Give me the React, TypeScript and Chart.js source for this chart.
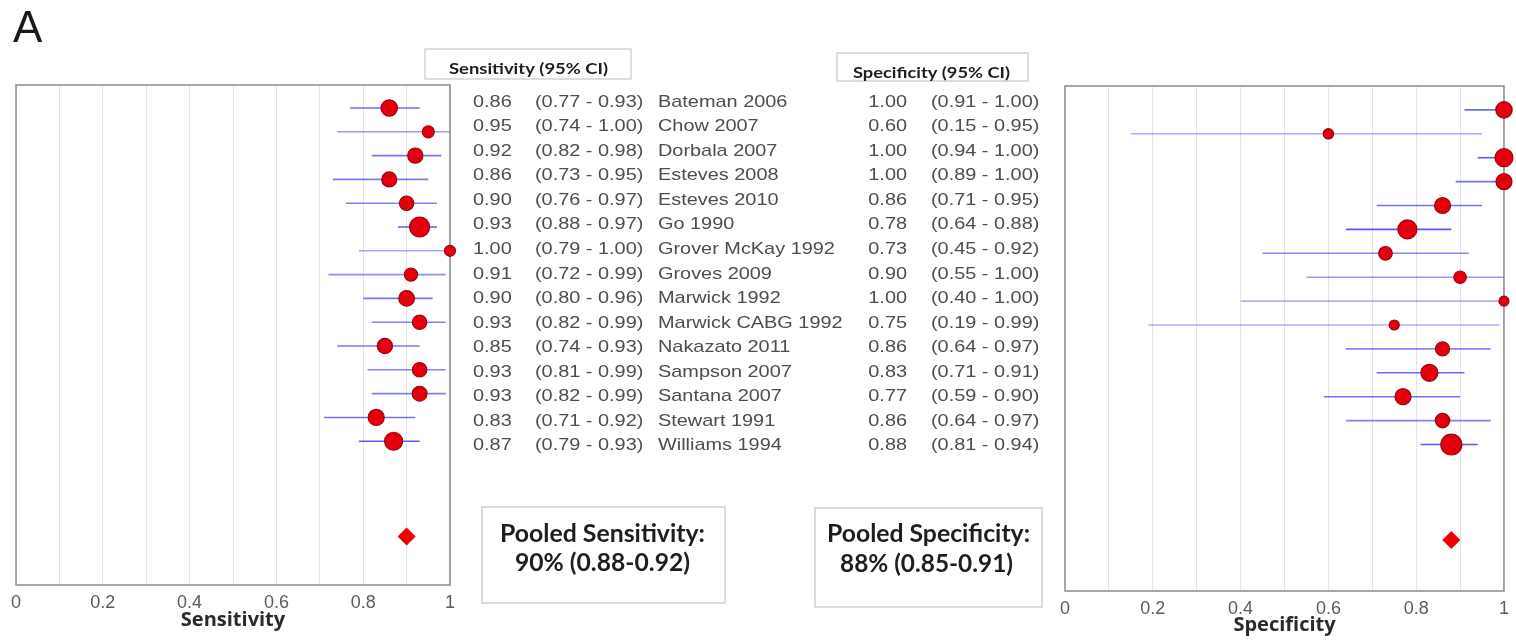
import React, { useEffect, useRef } from "react";
import { Chart, registerables } from "chart.js";

Chart.register(...registerables);

// ---------- data ----------
const studies = [
  "Bateman 2006", "Chow 2007", "Dorbala 2007", "Esteves 2008", "Esteves 2010",
  "Go 1990", "Grover McKay 1992", "Groves 2009", "Marwick 1992", "Marwick CABG 1992",
  "Nakazato 2011", "Sampson 2007", "Santana 2007", "Stewart 1991", "Williams 1994",
];
const sensEst = [0.86, 0.95, 0.92, 0.86, 0.90, 0.93, 1.00, 0.91, 0.90, 0.93, 0.85, 0.93, 0.93, 0.83, 0.87];
const sensLow = [0.77, 0.74, 0.82, 0.73, 0.76, 0.88, 0.79, 0.72, 0.80, 0.82, 0.74, 0.81, 0.82, 0.71, 0.79];
const sensHigh = [0.93, 1.00, 0.98, 0.95, 0.97, 0.97, 1.00, 0.99, 0.96, 0.99, 0.93, 0.99, 0.99, 0.92, 0.93];
const sensWeight = [0.82, 0.6, 0.76, 0.75, 0.72, 1.0, 0.55, 0.66, 0.78, 0.72, 0.76, 0.72, 0.74, 0.8, 0.9];

const specEst = [1.00, 0.60, 1.00, 1.00, 0.86, 0.78, 0.73, 0.90, 1.00, 0.75, 0.86, 0.83, 0.77, 0.86, 0.88];
const specLow = [0.91, 0.15, 0.94, 0.89, 0.71, 0.64, 0.45, 0.55, 0.40, 0.19, 0.64, 0.71, 0.59, 0.64, 0.81];
const specHigh = [1.00, 0.95, 1.00, 1.00, 0.95, 0.88, 0.92, 1.00, 1.00, 0.99, 0.97, 0.91, 0.90, 0.97, 0.94];
const specWeight = [0.82, 0.52, 0.9, 0.8, 0.8, 0.95, 0.68, 0.62, 0.5, 0.5, 0.7, 0.85, 0.8, 0.72, 1.05];

const pooledSens = [0.90, 0.88, 0.92];
const pooledSpec = [0.88, 0.85, 0.91];
const pooledRow = 18;

const tickLabels = ["0", "0.2", "0.4", "0.6", "0.8", "1"];
const sensTitle = "Sensitivity";
const specTitle = "Specificity";
const panelLetter = "A";

// ---------- helpers ----------
const radiusOf = (w: number) => w * 10;
const ciColor = (w: number) => {
  const a = Math.max(0.45, Math.min(0.95, 0.45 + (w - 0.5) * 1.2));
  return `rgba(80, 80, 240, ${a.toFixed(2)})`;
};

function stretchText(ctx: CanvasRenderingContext2D, text: string, x: number, y: number, sx: number, align: CanvasTextAlign) {
  ctx.save();
  ctx.translate(x, y);
  ctx.scale(sx, 1);
  ctx.textAlign = align;
  ctx.fillText(text, 0, 0);
  ctx.restore();
}

function fitText(ctx: CanvasRenderingContext2D, text: string, cx: number, cy: number, width: number) {
  const w = ctx.measureText(text).width;
  ctx.save();
  ctx.translate(cx, cy);
  ctx.scale(width / w, 1);
  ctx.textAlign = "center";
  ctx.fillText(text, 0, 0);
  ctx.restore();
}

const framePlugin = {
  id: "frame",
  beforeDatasetsDraw(chart: any) {
    const { ctx, chartArea: a } = chart;
    ctx.save();
    ctx.strokeStyle = "#8c8c8c";
    ctx.lineWidth = 1.5;
    ctx.strokeRect(a.left, a.top, a.right - a.left, a.bottom - a.top);
    ctx.restore();
  },
};

const textPlugin = {
  id: "middleText",
  afterDraw(chart: any) {
    const ctx: CanvasRenderingContext2D = chart.ctx;
    ctx.save();
    // panel letter
    ctx.fillStyle = "#1a1a1a";
    ctx.font = '44px "Liberation Sans", Arial, sans-serif';
    ctx.textBaseline = "alphabetic";
    ctx.textAlign = "left";
    ctx.fillText(panelLetter, 13, 42);

    // header boxes
    ctx.strokeStyle = "#d2d2d2";
    ctx.lineWidth = 1.5;
    ctx.strokeRect(425, 49, 206, 30);
    ctx.strokeRect(837, 53, 191, 28);
    ctx.textBaseline = "middle";
    ctx.fillStyle = "#1e1e1e";
    ctx.font = 'bold 15px Lato, "Open Sans", sans-serif';
    fitText(ctx, "Sensitivity (95% CI)", 528.5, 69, 159);
    fitText(ctx, "Specificity (95% CI)", 931.5, 73, 157);

    // study rows
    ctx.fillStyle = "#4d4d4d";
    ctx.font = '17px "Liberation Sans", Arial, sans-serif';
    const sx = 1.17;
    studies.forEach((name, i) => {
      const y = 102 + i * 24.55;
      stretchText(ctx, sensEst[i].toFixed(2), 473, y, sx, "left");
      stretchText(ctx, `(${sensLow[i].toFixed(2)} - ${sensHigh[i].toFixed(2)})`, 535, y, sx, "left");
      stretchText(ctx, name, 658, y, sx, "left");
      stretchText(ctx, specEst[i].toFixed(2), 907, y, sx, "right");
      stretchText(ctx, `(${specLow[i].toFixed(2)} - ${specHigh[i].toFixed(2)})`, 931, y, sx, "left");
    });

    // pooled boxes
    ctx.strokeStyle = "#d0d0d0";
    ctx.lineWidth = 1.5;
    ctx.strokeRect(482, 507, 243, 96);
    ctx.strokeRect(815, 508, 227, 99);
    ctx.fillStyle = "#1e1e1e";
    ctx.font = 'bold 24px Lato, "Open Sans", sans-serif';
    const pct = (v: number) => `${Math.round(v * 100)}%`;
    fitText(ctx, "Pooled Sensitivity:", 602.5, 534, 205);
    fitText(ctx, `${pct(pooledSens[0])} (${pooledSens[1].toFixed(2)}-${pooledSens[2].toFixed(2)})`, 602.5, 563, 175);
    fitText(ctx, "Pooled Specificity:", 928.5, 534, 203);
    fitText(ctx, `${pct(pooledSpec[0])} (${pooledSpec[1].toFixed(2)}-${pooledSpec[2].toFixed(2)})`, 926.5, 564, 173);
    ctx.restore();
  },
};

function buildConfig(
  est: number[], low: number[], high: number[], weight: number[], pooled: number[],
  title: string, yMin: number, yMax: number,
  padding: { left: number; right: number; top: number; bottom: number },
  titlePadBottom: number, extraPlugins: any[]
): any {
  const datasets: any[] = [
    {
      label: "studies",
      data: est.map((v, i) => ({ x: v, y: i })),
      pointRadius: weight.map(radiusOf),
      pointHoverRadius: weight.map(radiusOf),
      backgroundColor: "#e3000c",
      borderColor: "#9c0012",
      borderWidth: 1.2,
      clip: false,
      order: 0,
    },
    {
      label: "pooled",
      data: [{ x: pooled[0], y: pooledRow }],
      pointStyle: "rectRot",
      pointRadius: 9,
      backgroundColor: "#f00000",
      borderColor: "#e00000",
      borderWidth: 0,
      clip: false,
      order: 0,
    },
    ...est.map((_, i) => ({
      label: `ci${i}`,
      data: [{ x: low[i], y: i }, { x: high[i], y: i }],
      showLine: true,
      pointRadius: 0,
      borderColor: ciColor(weight[i]),
      borderWidth: 1.6,
      clip: false,
      order: 1,
    })),
  ];
  return {
    type: "scatter",
    data: { datasets },
    options: {
      animation: false,
      responsive: false,
      devicePixelRatio: 1,
      layout: { padding },
      plugins: { legend: { display: false }, tooltip: { enabled: false } },
      events: [],
      scales: {
        x: {
          type: "linear",
          min: 0,
          max: 1,
          grid: { color: "#e6e6e6", lineWidth: 1, drawTicks: false },
          border: { display: false },
          ticks: {
            stepSize: 0.1,
            autoSkip: false,
            maxRotation: 0,
            padding: 7,
            color: "#5c5c5c",
            font: { family: '"Liberation Sans", Arial, sans-serif', size: 18 },
            callback: (v: any) => {
              const k = Math.round(Number(v) * 10);
              return k % 2 === 0 ? tickLabels[k / 2] : "";
            },
          },
          title: {
            display: true,
            text: title,
            color: "#2a2a2a",
            font: { family: '"Open Sans", Lato, sans-serif', weight: "bold", size: 20 },
            padding: { top: 0, bottom: titlePadBottom },
          },
          afterFit: (s: any) => {
            s.height = 50;
          },
        },
        y: { type: "linear", display: false, min: yMin, max: yMax, reverse: true },
      },
    },
    plugins: [framePlugin, ...extraPlugins],
  };
}

export default function App() {
  const leftRef = useRef<HTMLCanvasElement>(null);
  const rightRef = useRef<HTMLCanvasElement>(null);

  useEffect(() => {
    const left = new Chart(
      leftRef.current as HTMLCanvasElement,
      buildConfig(sensEst, sensLow, sensHigh, sensWeight, pooledSens, sensTitle, -0.966, 20.04,
        { left: 16, right: 1066, top: 85, bottom: 9 }, 2.4, [textPlugin])
    );
    const right = new Chart(
      rightRef.current as HTMLCanvasElement,
      buildConfig(specEst, specLow, specHigh, specWeight, pooledSpec, specTitle, -1.0, 20.13,
        { left: 25, right: 11, top: 86, bottom: 3 }, 3.4, [])
    );
    return () => {
      left.destroy();
      right.destroy();
    };
  }, []);

  return (
    <div style={{ position: "fixed", left: 0, top: 0, width: 1516, height: 644, background: "#fff", overflow: "hidden" }}>
      <canvas ref={leftRef} width={1516} height={644} style={{ position: "absolute", left: 0, top: 0, display: "block" }} />
      <canvas ref={rightRef} width={476} height={644} style={{ position: "absolute", left: 1040, top: 0, display: "block" }} />
    </div>
  );
}
